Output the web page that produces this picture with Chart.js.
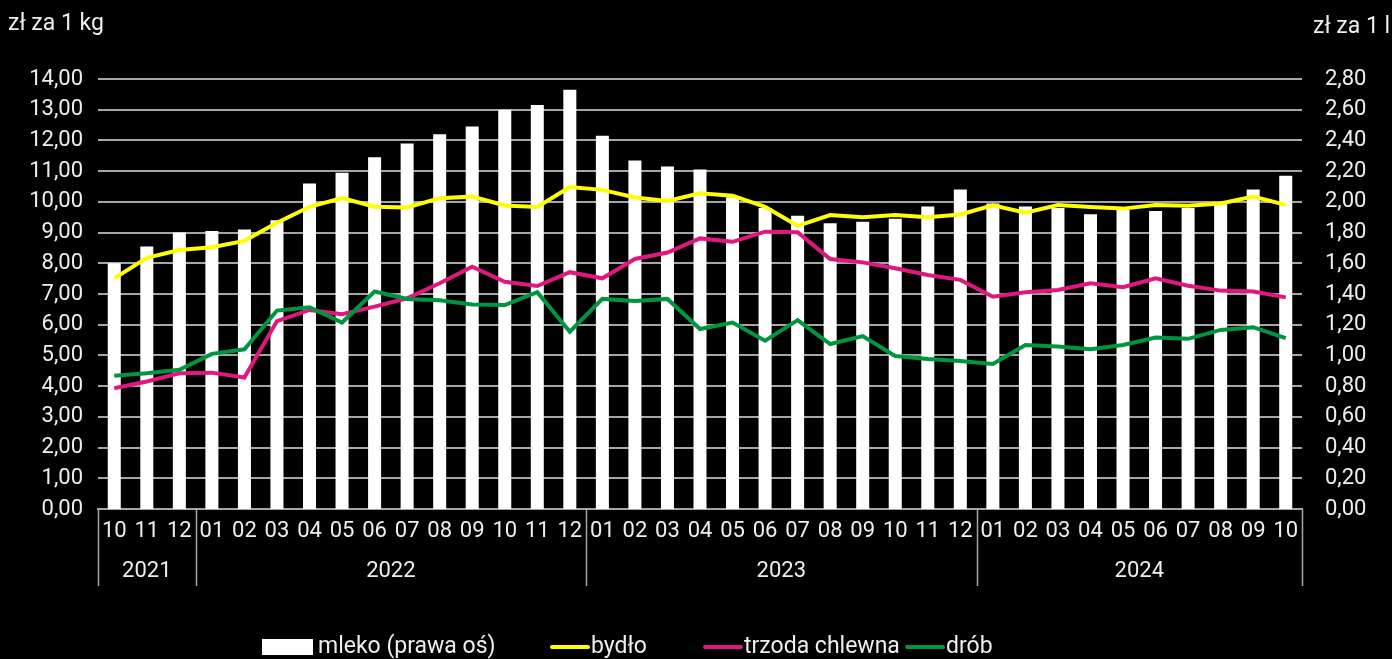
<!DOCTYPE html>
<html>
<head>
<meta charset="utf-8">
<script src="https://cdn.jsdelivr.net/npm/chart.js@4.4.1/dist/chart.umd.min.js"></script>
<style>
  html, body { margin: 0; padding: 0; background: #000; overflow: hidden; }
  #wrap { width: 1392px; height: 659px; position: relative; }
</style>
</head>
<body>
<div id="wrap"><canvas id="myChart"></canvas></div>
<script>
const months = ['10','11','12','01','02','03','04','05','06','07','08','09','10','11','12',
  '01','02','03','04','05','06','07','08','09','10','11','12',
  '01','02','03','04','05','06','07','08','09','10'];
const yearLabels = ['2021', '2022', '2023', '2024'];
const yearCounts = [3, 12, 12, 10];

// zł za 1 l (prawa oś)
const mleko = [1.60, 1.71, 1.80, 1.81, 1.82, 1.88, 2.12, 2.19, 2.29, 2.38, 2.44, 2.49, 2.60, 2.63, 2.73,
  2.43, 2.27, 2.23, 2.21, 2.03, 1.96, 1.91, 1.86, 1.87, 1.89, 1.97, 2.08,
  1.99, 1.97, 1.96, 1.92, 1.95, 1.94, 1.96, 1.99, 2.08, 2.17];
// zł za 1 kg
const bydlo = [7.51, 8.18, 8.43, 8.52, 8.73, 9.32, 9.84, 10.12, 9.84, 9.82, 10.12, 10.17, 9.88, 9.83, 10.48,
  10.39, 10.14, 10.03, 10.28, 10.20, 9.84, 9.22, 9.57, 9.50, 9.57, 9.50, 9.59,
  9.89, 9.65, 9.90, 9.83, 9.78, 9.90, 9.87, 9.95, 10.17, 9.90];
const trzoda = [3.93, 4.15, 4.42, 4.44, 4.28, 6.12, 6.48, 6.34, 6.59, 6.86, 7.35, 7.89, 7.40, 7.26, 7.71,
  7.51, 8.14, 8.35, 8.81, 8.70, 9.03, 9.01, 8.14, 8.03, 7.84, 7.62, 7.46,
  6.91, 7.06, 7.13, 7.35, 7.22, 7.51, 7.27, 7.11, 7.08, 6.89];
const drob = [4.34, 4.42, 4.53, 5.05, 5.20, 6.46, 6.57, 6.07, 7.08, 6.84, 6.80, 6.66, 6.64, 7.06, 5.77,
  6.84, 6.77, 6.84, 5.86, 6.07, 5.48, 6.15, 5.37, 5.63, 4.98, 4.88, 4.82,
  4.72, 5.34, 5.29, 5.20, 5.34, 5.58, 5.54, 5.83, 5.92, 5.56];

const FONT = "'Roboto', sans-serif";
const TEXT = '#eeeeee';
const GRID = '#a6a6a6';

const fmt = (v) => Number(v).toFixed(2).replace('.', ',');

// year groups under the month labels + axis titles + legend
const extras = {
  id: 'extras',
  afterDraw(chart) {
    const ctx = chart.ctx;
    const x = chart.scales.x;
    const area = chart.chartArea;
    ctx.save();
    ctx.strokeStyle = GRID;
    ctx.lineWidth = 1.5;
    ctx.fillStyle = TEXT;
    ctx.font = '22px ' + FONT;
    ctx.textAlign = 'center';
    ctx.textBaseline = 'middle';

    const edge = (i) => {
      if (i <= 0) return area.left;
      if (i >= months.length) return area.right;
      return (x.getPixelForValue(i - 1) + x.getPixelForValue(i)) / 2;
    };
    let start = 0;
    const bounds = [edge(0)];
    yearLabels.forEach((y, k) => {
      const end = start + yearCounts[k];
      const a = edge(start), b = edge(end);
      bounds.push(b);
      ctx.fillText(y, (a + b) / 2, area.bottom + 62);
      start = end;
    });
    bounds.forEach((bx) => {
      ctx.beginPath();
      ctx.moveTo(Math.round(bx) + 0.5, area.bottom);
      ctx.lineTo(Math.round(bx) + 0.5, area.bottom + 77);
      ctx.stroke();
    });

    // unit titles
    ctx.textAlign = 'left';
    ctx.font = '23px ' + FONT;
    ctx.fillText('zł za 1 kg', 8, 24);
    ctx.fillText('zł za 1 l', 1313, 27);

    // legend
    const legendX = [262, 550, 703, 905];
    const ly = 647;
    chart.data.datasets.forEach((ds, i) => {
      const lx = legendX[i];
      let tx;
      if (ds.type === 'bar') {
        ctx.fillStyle = ds.backgroundColor;
        ctx.fillRect(lx, ly - 8, 51, 16);
        tx = lx + 56;
      } else {
        ctx.strokeStyle = ds.borderColor;
        ctx.lineWidth = 4;
        ctx.lineCap = 'round';
        ctx.beginPath();
        ctx.moveTo(lx + 2, ly);
        ctx.lineTo(lx + 38, ly);
        ctx.stroke();
        tx = lx + 41;
      }
      ctx.fillStyle = TEXT;
      ctx.fillText(ds.label, tx, ly);
    });
    ctx.restore();
  }
};

const data = {
  labels: months,
  datasets: [
    {
      type: 'bar',
      label: 'mleko (prawa oś)',
      data: mleko,
      yAxisID: 'y1',
      backgroundColor: '#ffffff',
      barPercentage: 0.4,
      categoryPercentage: 1,
      order: 4
    },
    {
      type: 'line',
      label: 'bydło',
      data: bydlo,
      yAxisID: 'y',
      borderColor: '#ffff00',
      borderWidth: 4,
      pointRadius: 0,
      order: 3
    },
    {
      type: 'line',
      label: 'trzoda chlewna',
      data: trzoda,
      yAxisID: 'y',
      borderColor: '#e0177f',
      borderWidth: 4,
      pointRadius: 0,
      order: 2
    },
    {
      type: 'line',
      label: 'drób',
      data: drob,
      yAxisID: 'y',
      borderColor: '#00953f',
      borderWidth: 4,
      pointRadius: 0,
      order: 1
    }
  ]
};

const config = {
  type: 'bar',
  data: data,
  options: {
    responsive: true,
    maintainAspectRatio: false,
    animation: false,
    layout: { padding: { top: 79, left: 0, right: 0, bottom: 0 } },
    plugins: {
      legend: { display: false },
      tooltip: { enabled: false }
    },
    scales: {
      x: {
        grid: { display: false, drawTicks: false },
        border: { display: true, color: GRID, width: 2 },
        ticks: {
          color: TEXT,
          font: { family: FONT, size: 22 },
          padding: 9,
          maxRotation: 0,
          autoSkip: false
        },
        afterFit: (s) => { s.height = 150; }
      },
      y: {
        position: 'left',
        min: 0,
        max: 14,
        grid: { color: GRID, lineWidth: 2, drawTicks: false },
        border: { display: false },
        ticks: {
          stepSize: 1,
          color: TEXT,
          font: { family: FONT, size: 22 },
          padding: 15,
          callback: fmt
        },
        afterFit: (s) => { s.width = 98; }
      },
      y1: {
        position: 'right',
        min: 0,
        max: 2.8,
        grid: { display: false, drawTicks: false },
        border: { display: false },
        ticks: {
          stepSize: 0.2,
          color: TEXT,
          font: { family: FONT, size: 22 },
          padding: 23,
          callback: fmt
        },
        afterFit: (s) => { s.width = 90; }
      }
    }
  },
  plugins: [extras]
};

document.addEventListener('DOMContentLoaded', (event) => {
  const myChart = new Chart(
    document.getElementById('myChart'),
    config
  );
});
</script>
</body>
</html>
